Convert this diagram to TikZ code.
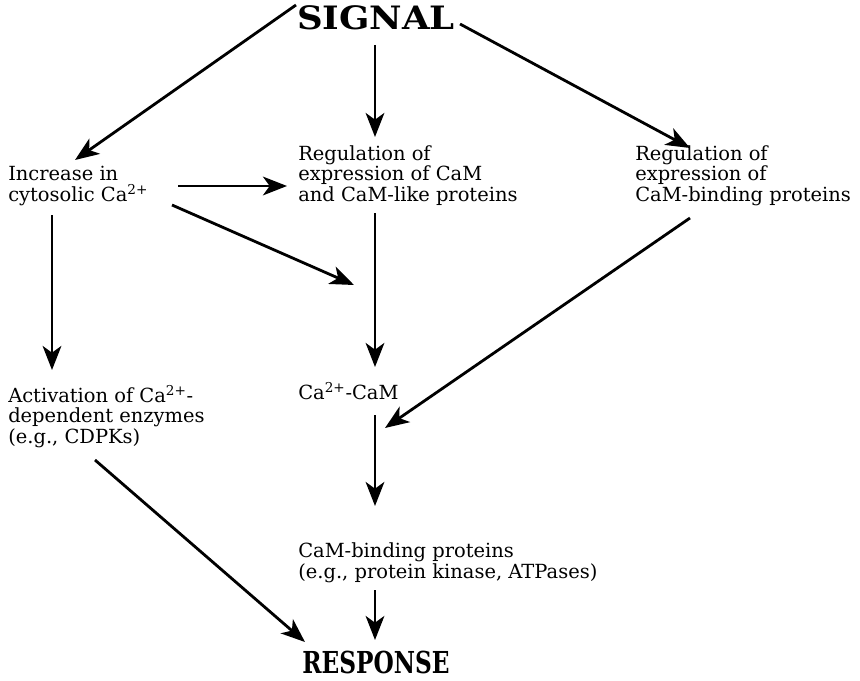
\documentclass[tikz,border=0pt]{standalone}
\usepackage{fontspec}
\setmainfont{DejaVu Serif}
\usetikzlibrary{arrows.meta,calc}
\tikzset{
  lbl/.style={anchor=base west, align=left, inner sep=0pt, font=\fontsize{14.6pt}{15.2pt}\selectfont},
  big/.style={inner sep=0pt, font=\fontsize{21pt}{24pt}\selectfont\bfseries},
  arr/.style={line width=2.1pt, -{Stealth[length=18pt,width=14pt,inset=5pt]}}
}
\begin{document}
\begin{tikzpicture}[x=0.75pt,y=-0.75pt]
\useasboundingbox (0,0) rectangle (860,681);
\node[big] (signal) at (376,18) {\scalebox{1.27}[1.15]{SIGNAL}};
\node[big] (response) at (376,662) {\scalebox{0.83}[1.08]{RESPONSE}};
\node[lbl] (inc) at (8,201) {Increase in\\cytosolic Ca\textsuperscript{2+}};
\node[lbl] (regcam) at (298,201) {Regulation of\\expression of CaM\\and CaM-like proteins};
\node[lbl] (regbind) at (635,201) {Regulation of\\expression of\\CaM-binding proteins};
\node[lbl] (act) at (8,443) {Activation of Ca\textsuperscript{2+}-\\dependent enzymes\\(e.g., CDPKs)};
\node[lbl] (cacam) at (298,399) {Ca\textsuperscript{2+}-CaM};
\node[lbl] (cambp) at (298,578) {CaM-binding proteins\\(e.g., protein kinase, ATPases)};
% arrows
\draw[arr] ($(signal.center)+(-80,-13)$) -- ($(inc.base west)+(67,-41)$);
\draw[arr] ($(signal.center)+(-1,27)$) -- ($(regcam.base west)+(77,-64)$);
\draw[arr] ($(signal.center)+(84,6)$) -- ($(regbind.base west)+(55,-53)$);
\draw[arr] ($(inc.base west)+(170,-15)$) -- ($(regcam.base west)+(-11,-15)$);
\draw[arr] ($(inc.base west)+(164,4)$) -- ($(cacam.base west)+(56,-114)$);
\draw[arr] ($(regcam.base west)+(77,12)$) -- ($(cacam.base west)+(77,-32)$);
\draw[arr] ($(regbind.base west)+(55,17)$) -- ($(cacam.base west)+(87,29)$);
\draw[arr] ($(inc.base west)+(44,14)$) -- ($(act.base west)+(44,-73)$);
\draw[arr] ($(cacam.base west)+(77,16)$) -- ($(cambp.base west)+(77,-72)$);
\draw[arr] ($(cambp.base west)+(77,12)$) -- ($(response.center)+(-1,-22)$);
\draw[arr] ($(act.base west)+(87,17)$) -- ($(response.center)+(-71,-20)$);
\end{tikzpicture}
\end{document}
